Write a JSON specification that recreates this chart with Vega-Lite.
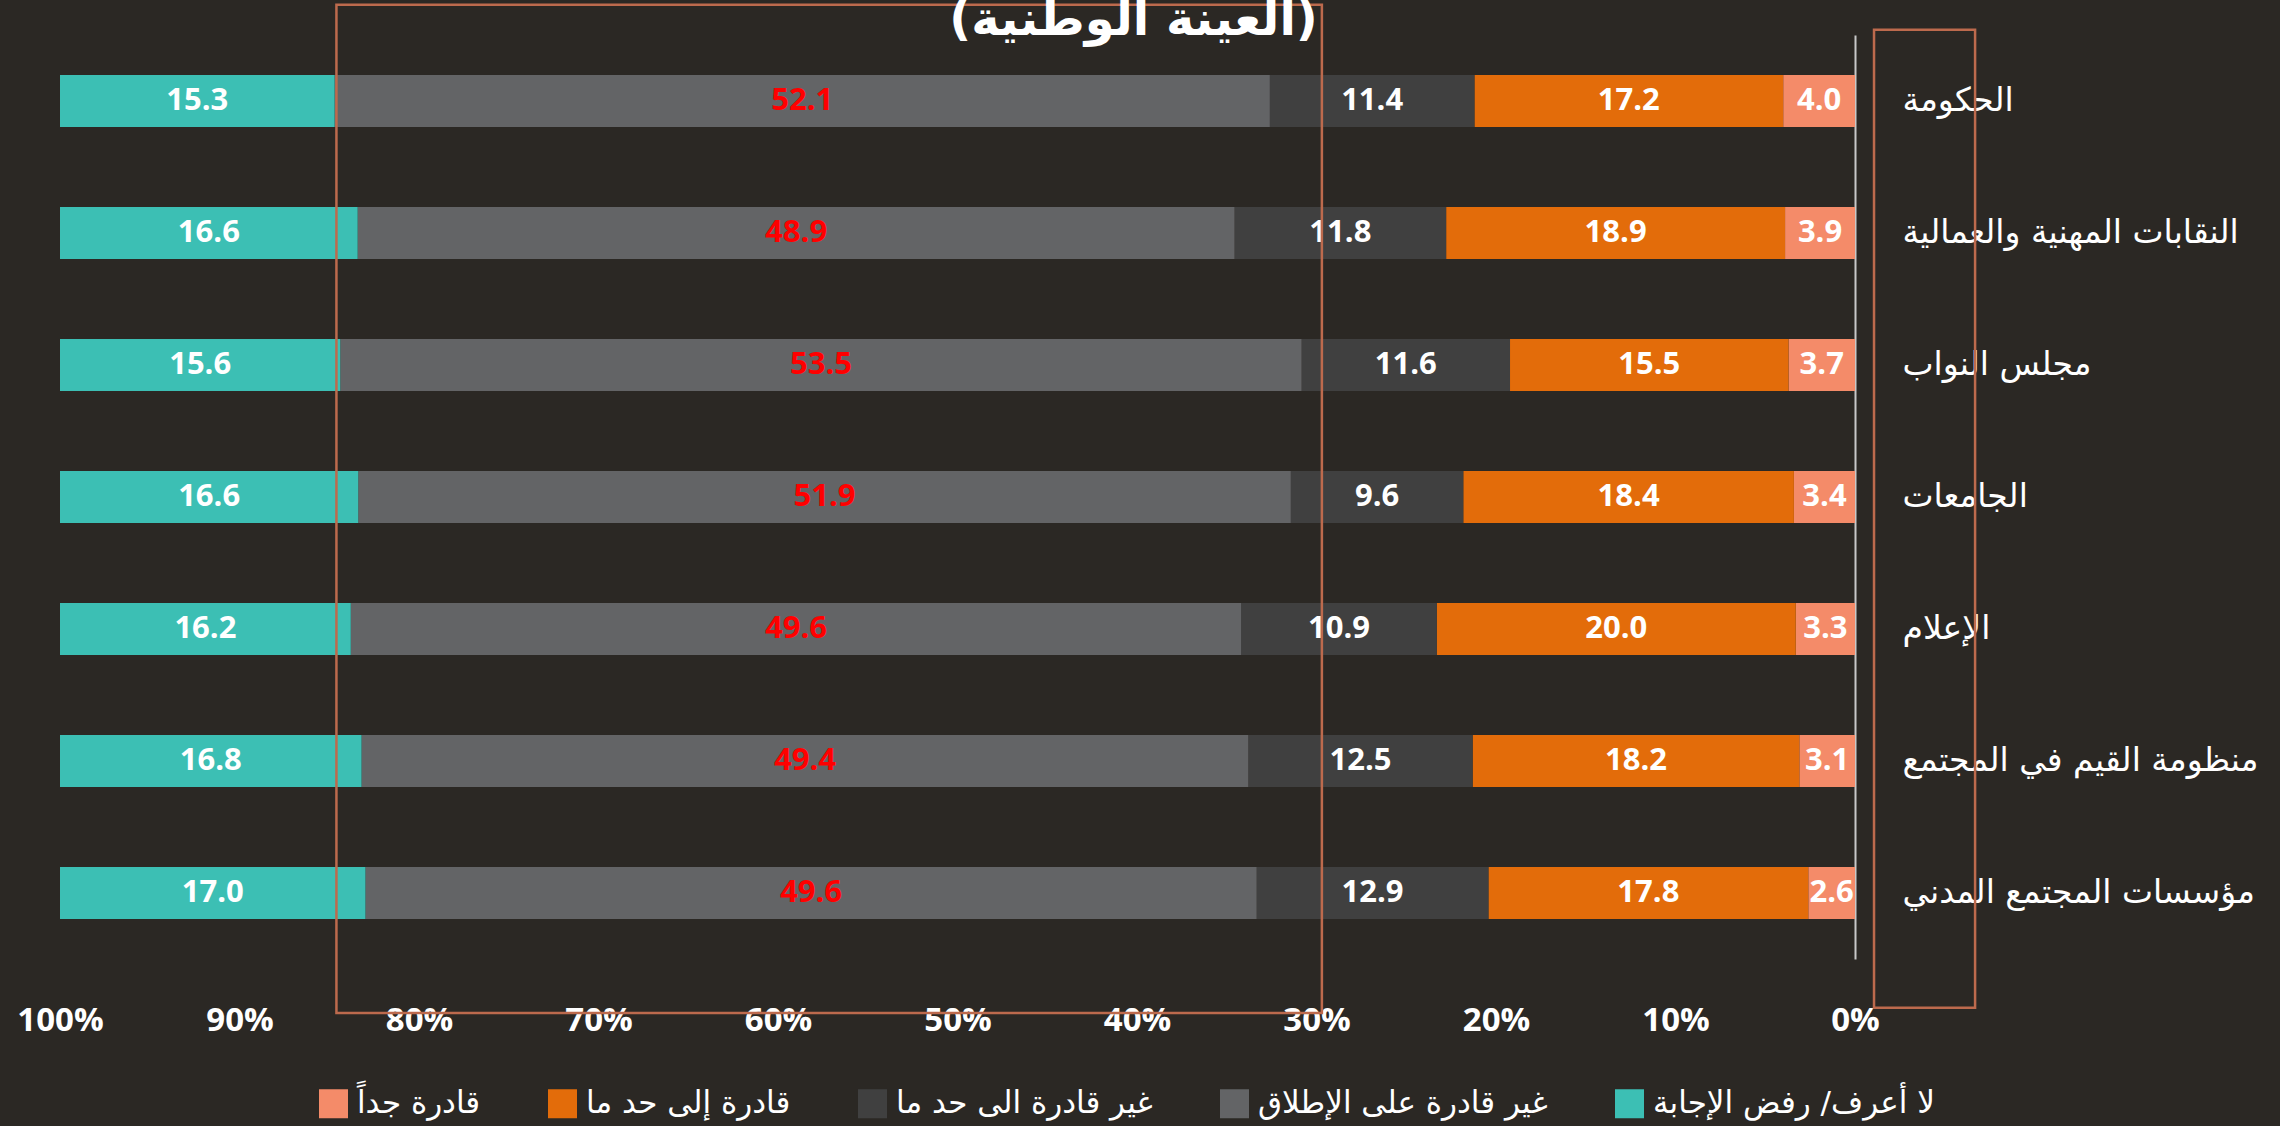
{
  "$schema": "https://vega.github.io/schema/vega-lite/v6.json",
  "width": 1795,
  "height": 924,
  "autosize": {"type": "none"},
  "padding": {"left": 60, "top": 35, "right": 425, "bottom": 167},
  "background": "#2b2824",
  "title": {
    "text": "(العينة الوطنية)",
    "color": "white",
    "fontSize": 48,
    "fontWeight": "bold",
    "font": "DejaVu Sans",
    "anchor": "middle",
    "frame": "group",
    "dx": 176,
    "offset": -80,
    "baseline": "alphabetic"
  },
  "config": {"view": {"stroke": null}},
  "datasets": {
    "survey": [
      {"cat": "الحكومة", "resp": "قادرة جداً", "ord": 1, "value": 4.0},
      {"cat": "الحكومة", "resp": "قادرة إلى حد ما", "ord": 2, "value": 17.2},
      {"cat": "الحكومة", "resp": "غير قادرة الى حد ما", "ord": 3, "value": 11.4},
      {"cat": "الحكومة", "resp": "غير قادرة على الإطلاق", "ord": 4, "value": 52.1},
      {"cat": "الحكومة", "resp": "لا أعرف/ رفض الإجابة", "ord": 5, "value": 15.3},
      {"cat": "النقابات المهنية والعمالية", "resp": "قادرة جداً", "ord": 1, "value": 3.9},
      {"cat": "النقابات المهنية والعمالية", "resp": "قادرة إلى حد ما", "ord": 2, "value": 18.9},
      {"cat": "النقابات المهنية والعمالية", "resp": "غير قادرة الى حد ما", "ord": 3, "value": 11.8},
      {"cat": "النقابات المهنية والعمالية", "resp": "غير قادرة على الإطلاق", "ord": 4, "value": 48.9},
      {"cat": "النقابات المهنية والعمالية", "resp": "لا أعرف/ رفض الإجابة", "ord": 5, "value": 16.6},
      {"cat": "مجلس النواب", "resp": "قادرة جداً", "ord": 1, "value": 3.7},
      {"cat": "مجلس النواب", "resp": "قادرة إلى حد ما", "ord": 2, "value": 15.5},
      {"cat": "مجلس النواب", "resp": "غير قادرة الى حد ما", "ord": 3, "value": 11.6},
      {"cat": "مجلس النواب", "resp": "غير قادرة على الإطلاق", "ord": 4, "value": 53.5},
      {"cat": "مجلس النواب", "resp": "لا أعرف/ رفض الإجابة", "ord": 5, "value": 15.6},
      {"cat": "الجامعات", "resp": "قادرة جداً", "ord": 1, "value": 3.4},
      {"cat": "الجامعات", "resp": "قادرة إلى حد ما", "ord": 2, "value": 18.4},
      {"cat": "الجامعات", "resp": "غير قادرة الى حد ما", "ord": 3, "value": 9.6},
      {"cat": "الجامعات", "resp": "غير قادرة على الإطلاق", "ord": 4, "value": 51.9},
      {"cat": "الجامعات", "resp": "لا أعرف/ رفض الإجابة", "ord": 5, "value": 16.6},
      {"cat": "الإعلام", "resp": "قادرة جداً", "ord": 1, "value": 3.3},
      {"cat": "الإعلام", "resp": "قادرة إلى حد ما", "ord": 2, "value": 20.0},
      {"cat": "الإعلام", "resp": "غير قادرة الى حد ما", "ord": 3, "value": 10.9},
      {"cat": "الإعلام", "resp": "غير قادرة على الإطلاق", "ord": 4, "value": 49.6},
      {"cat": "الإعلام", "resp": "لا أعرف/ رفض الإجابة", "ord": 5, "value": 16.2},
      {"cat": "منظومة القيم في المجتمع", "resp": "قادرة جداً", "ord": 1, "value": 3.1},
      {"cat": "منظومة القيم في المجتمع", "resp": "قادرة إلى حد ما", "ord": 2, "value": 18.2},
      {"cat": "منظومة القيم في المجتمع", "resp": "غير قادرة الى حد ما", "ord": 3, "value": 12.5},
      {"cat": "منظومة القيم في المجتمع", "resp": "غير قادرة على الإطلاق", "ord": 4, "value": 49.4},
      {"cat": "منظومة القيم في المجتمع", "resp": "لا أعرف/ رفض الإجابة", "ord": 5, "value": 16.8},
      {"cat": "مؤسسات المجتمع المدني", "resp": "قادرة جداً", "ord": 1, "value": 2.6},
      {"cat": "مؤسسات المجتمع المدني", "resp": "قادرة إلى حد ما", "ord": 2, "value": 17.8},
      {"cat": "مؤسسات المجتمع المدني", "resp": "غير قادرة الى حد ما", "ord": 3, "value": 12.9},
      {"cat": "مؤسسات المجتمع المدني", "resp": "غير قادرة على الإطلاق", "ord": 4, "value": 49.6},
      {"cat": "مؤسسات المجتمع المدني", "resp": "لا أعرف/ رفض الإجابة", "ord": 5, "value": 17.0}
    ],
    "boxes": [
      {"x1": 0.846, "x2": 0.297, "y1": -0.73, "y2": 6.91},
      {"x1": -0.0106, "x2": -0.0669, "y1": -0.54, "y2": 6.87}
    ]
  },
  "layer": [
    {
      "data": {"name": "survey"},
      "encoding": {
        "y": {
          "field": "cat",
          "type": "nominal",
          "sort": null,
          "scale": {"paddingInner": 0.606, "paddingOuter": 0.303},
          "axis": {
            "orient": "right",
            "title": null,
            "domain": true,
            "domainColor": "#c8c8c8",
            "domainWidth": 2,
            "ticks": false,
            "labelAlign": "left",
            "labelPadding": 47,
            "labelFontSize": 33,
            "labelFont": "DejaVu Sans",
            "labelColor": "white",
            "labelLimit": 500
          }
        }
      },
      "layer": [
        {
          "mark": {"type": "bar"},
          "encoding": {
            "x": {
              "field": "value",
              "type": "quantitative",
              "stack": "normalize",
              "scale": {"domain": [0, 1], "reverse": true},
              "axis": {
                "orient": "bottom",
                "title": null,
                "domain": false,
                "ticks": false,
                "grid": false,
                "values": [0, 0.1, 0.2, 0.3, 0.4, 0.5, 0.6, 0.7, 0.8, 0.9, 1],
                "format": ".0%",
                "labelFont": "Open Sans",
                "labelFontWeight": "bold",
                "labelFontSize": 33,
                "labelColor": "white",
                "labelPadding": 45,
                "labelFlush": false,
                "labelOverlap": false
              }
            },
            "color": {
              "field": "resp",
              "type": "nominal",
              "scale": {
                "domain": ["قادرة جداً", "قادرة إلى حد ما", "غير قادرة الى حد ما", "غير قادرة على الإطلاق", "لا أعرف/ رفض الإجابة"],
                "range": ["#f48b69", "#e36c0a", "#404040", "#636466", "#3cbfb4"]
              },
              "legend": {
                "title": null,
                "orient": "none",
                "direction": "horizontal",
                "legendX": 258,
                "legendY": 1053,
                "symbolType": "square",
                "symbolSize": 841,
                "symbolStrokeWidth": 0,
                "symbolOpacity": 1,
                "labelFont": "DejaVu Sans",
                "labelFontSize": 31,
                "labelColor": "white",
                "labelOffset": 8,
                "columnPadding": 66,
                "labelLimit": 500
              }
            },
            "order": {"field": "ord", "type": "quantitative"}
          }
        },
        {
          "mark": {"type": "text", "font": "Open Sans", "fontWeight": "bold", "fontSize": 31, "baseline": "middle", "align": "center"},
          "encoding": {
            "x": {"field": "value", "type": "quantitative", "stack": "normalize", "bandPosition": 0.5},
            "detail": {"field": "resp"},
            "order": {"field": "ord", "type": "quantitative"},
            "text": {"field": "value", "type": "quantitative", "format": ".1f"},
            "color": {
              "condition": {"test": "datum.resp === 'غير قادرة على الإطلاق'", "value": "#ff0000"},
              "value": "white"
            }
          }
        }
      ]
    },
    {
      "data": {"name": "boxes"},
      "mark": {"type": "rect", "fill": null, "stroke": "#bd6a4d", "strokeWidth": 2.5, "clip": false},
      "encoding": {
        "x": {"field": "x1", "type": "quantitative"},
        "x2": {"field": "x2"},
        "y": {"field": "y1", "type": "quantitative", "scale": {"domain": [-0.5, 6.5], "reverse": true}, "axis": null},
        "y2": {"field": "y2"}
      }
    }
  ],
  "resolve": {"scale": {"y": "independent"}}
}
